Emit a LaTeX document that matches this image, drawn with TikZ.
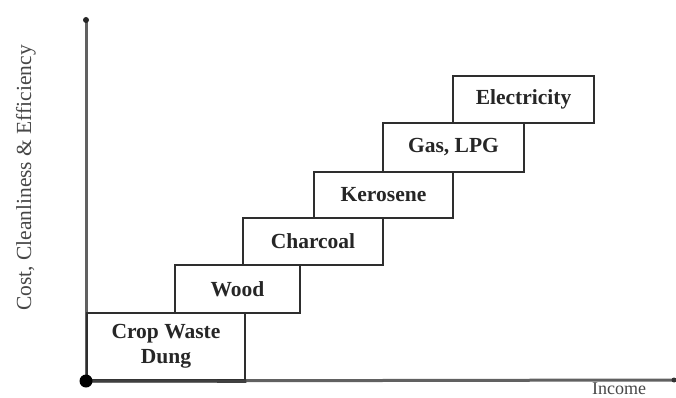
\documentclass[tikz,border=0pt]{standalone}
\usepackage{fontspec}
\setmainfont{Liberation Serif}
\begin{document}
\begin{tikzpicture}[x=1pt,y=-1pt,
  fuelbox/.style={draw=black!82,line width=2.6pt,fill=white,inner sep=0pt,
    font=\bfseries\fontsize{21.5}{25}\selectfont,align=center,text=black!85},
  axisline/.style={draw=black!62,line width=3pt},
  axislabel/.style={font=\fontsize{21.5}{25}\selectfont,text=black!72}]
\useasboundingbox (0,0) rectangle (676,398);
% axes
\coordinate (O) at (86,381);
\coordinate (Ytop) at (86,20);
\coordinate (Xend) at (674,380);
\draw[axisline] (O) -- (Ytop);
\draw[axisline] (O) -- (Xend);
% boxes
\node[fuelbox,minimum width=158pt,minimum height=67pt] (crop) at (166,346.5) {Crop Waste\\Dung};
\node[fuelbox,minimum width=125pt,minimum height=48pt] (wood) at (237.5,289) {Wood};
\node[fuelbox,minimum width=140pt,minimum height=47pt] (charcoal) at (313,241.5) {Charcoal};
\node[fuelbox,minimum width=139pt,minimum height=46pt] (kerosene) at (383.5,195) {Kerosene};
\node[fuelbox,minimum width=141pt,minimum height=49pt] (gas) at (453.5,147.5) {Gas, LPG};
\node[fuelbox,minimum width=141pt,minimum height=47pt] (elec) at (523.5,99.5) {Electricity};
% redraw axis base line over the boxes
\draw[draw=black!75,line width=3pt] (O) -- (crop.south east);
% markers
\fill[black] (O) circle (6.5);
\fill[black!85] (Ytop) circle (3);
\fill[black!80] (Xend) circle (2.5);
% labels
\node[axislabel,rotate=90] (ylab) at (26,178) {Cost, Cleanliness \& Efficiency};
\node[axislabel,anchor=south,inner sep=0pt,font=\fontsize{18}{20}\selectfont] (xlab) at (619,395) {Income};
\end{tikzpicture}
\end{document}
